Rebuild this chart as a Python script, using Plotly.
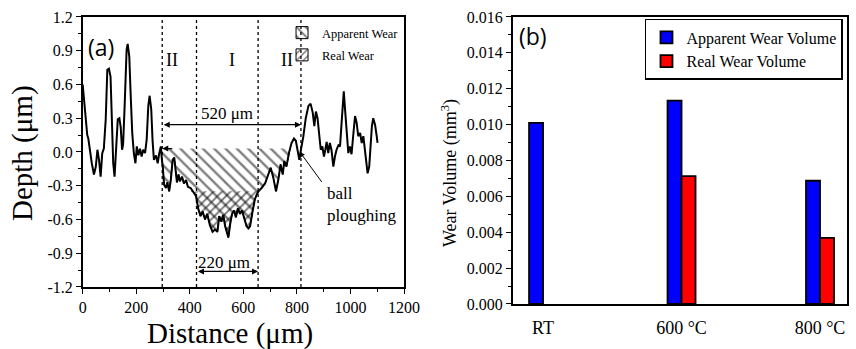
import numpy as np
import plotly.graph_objects as go

# ---------------- Panel (a): surface profile ----------------
distance = [0, 5, 12, 17, 21, 27, 34, 42, 49, 55, 61, 67, 73, 79, 86, 92, 98, 104, 109, 114,
            119, 124, 131, 137, 142, 147, 151, 157, 164, 168, 174, 179, 185, 191, 197, 202,
            208, 214, 220, 226, 233, 239, 245, 250, 256, 261, 266, 274, 280, 286, 292,
            295, 299, 304, 311, 316, 323, 329, 336, 342, 347, 352, 358, 363, 371, 378, 386,
            393, 403, 413, 423, 432, 440, 448, 457, 465, 475, 485, 494, 503, 510, 518, 525,
            532, 544, 552, 558, 565, 572, 580, 587, 595, 604, 612, 619, 625, 635, 643, 650,
            656, 668, 681, 693, 702, 712, 722, 731, 739, 747, 753, 761, 770, 780, 789, 796,
            802, 809, 815, 824, 833, 843, 851, 859, 865, 871, 877, 884, 889, 895, 901, 906,
            911, 917, 923, 929, 936, 942, 948, 955, 961, 966, 971, 975, 980, 986, 992, 998,
            1004, 1010, 1017, 1023, 1029, 1036, 1042, 1048, 1054, 1060, 1064, 1070, 1075,
            1080, 1085, 1092, 1098, 1101]
depth = [0.6, 0.45, 0.29, 0.15, 0.12, 0.0, -0.1, -0.2, -0.13, 0.02, -0.07, -0.22, -0.01, 0.03,
         0.29, 0.73, 0.74, 0.67, 0.29, -0.1,
         -0.22, 0.0, 0.29, 0.3, 0.22, 0.02, 0.07, 0.43, 0.91, 0.96, 0.85, 0.52, 0.17, -0.01,
         -0.1, 0.05,
         -0.03, 0.03, -0.04, 0.02, -0.01, 0.11, 0.41, 0.5, 0.38, 0.1, -0.07, -0.03, -0.1, -0.01,
         0.05,
         -0.05, -0.13, -0.29, -0.32, -0.27, -0.35, -0.25, -0.07, -0.05, -0.16, -0.27, -0.2,
         -0.26, -0.22, -0.28, -0.25,
         -0.31, -0.32, -0.35, -0.39, -0.51, -0.57, -0.53, -0.6, -0.55, -0.65, -0.71, -0.69,
         -0.71, -0.57, -0.62, -0.56,
         -0.66, -0.76, -0.62, -0.55, -0.52, -0.58, -0.5, -0.55, -0.52, -0.6, -0.66, -0.68,
         -0.66, -0.52, -0.42, -0.38,
         -0.35, -0.32, -0.28, -0.2, -0.14, -0.23, -0.35, -0.24, -0.11, -0.2, -0.08, -0.13,
         -0.01, 0.08, 0.12, 0.1,
         0.03, -0.07, 0.02, 0.14, 0.3, 0.41, 0.43, 0.35, 0.23, 0.36, 0.3, 0.14, 0.02, 0.05,
         -0.04, 0.02,
         0.09, -0.01, 0.08, 0.02, -0.13, -0.04, 0.02, 0.06, 0.05, 0.23, 0.4, 0.54, 0.37, 0.14,
         -0.01, 0.05,
         -0.02, 0.14, 0.32, 0.26, 0.14, 0.17, 0.08, 0.14, 0.02, -0.14, -0.19, -0.13, 0.05,
         0.23, 0.3, 0.24, 0.14, 0.08]

zone_bounds = [297, 425, 655, 815]
zone_labels = ["II", "I", "II"]
zone_label_x = [333, 558, 763]
apparent_span = [294, 775]
apparent_level = 0.03
real_span = [405, 660]
real_level = -0.35

depth_ticks = [-1.2, -0.9, -0.6, -0.3, 0.0, 0.3, 0.6, 0.9, 1.2]
depth_tick_labels = ["-1.2", "-0.9", "-0.6", "-0.3", "0.0", "0.3", "0.6", "0.9", "1.2"]
distance_ticks = [0, 200, 400, 600, 800, 1000, 1200]

# ---------------- Panel (b): wear volume ----------------
categories = ["RT", "600 °C", "800 °C"]
apparent_volume = [0.0101, 0.01134, 0.00687]
real_volume = [None, 0.00713, 0.00369]

SERIF = "Liberation Serif, Times New Roman, serif"

APP_PATTERN = dict(shape="\\", fgcolor="black", bgcolor="rgba(0,0,0,0)", size=8, solidity=0.3)
REAL_PATTERN = dict(shape="/", fgcolor="black", bgcolor="rgba(0,0,0,0)", size=6, solidity=0.32)

d = np.array(distance, dtype=float)
z = np.array(depth, dtype=float)

fig = go.Figure()

# Apparent wear area
m = (d >= apparent_span[0]) & (d <= apparent_span[1])
ax_x = [apparent_span[0]] + d[m].tolist() + [apparent_span[1]]
ax_y = [apparent_level] + np.minimum(z[m], apparent_level).tolist() + [apparent_level]
fig.add_trace(go.Scatter(
    x=ax_x, y=ax_y, mode="lines", fill="toself", fillcolor="rgba(0,0,0,0)",
    fillpattern=APP_PATTERN, line=dict(color="black", width=1), showlegend=False,
    hoverinfo="skip", xaxis="x", yaxis="y"))

# Real wear area
m2 = (d >= real_span[0]) & (d <= real_span[1])
rw_x = [real_span[0]] + d[m2].tolist() + [real_span[1]]
rw_y = [real_level] + np.minimum(z[m2], real_level).tolist() + [real_level]
fig.add_trace(go.Scatter(
    x=rw_x, y=rw_y, mode="lines", fill="toself", fillcolor="rgba(0,0,0,0)",
    fillpattern=REAL_PATTERN, line=dict(color="black", width=0.6), showlegend=False,
    hoverinfo="skip", xaxis="x", yaxis="y"))

# Profile
fig.add_trace(go.Scatter(x=distance, y=depth, mode="lines",
                         line=dict(color="black", width=2), showlegend=False,
                         hoverinfo="skip", xaxis="x", yaxis="y"))

# Legend-only entries for the hatched areas
fig.add_trace(go.Bar(x=[None], y=[None], name="Apparent Wear", legend="legend", legendgroup="aw",
                     marker=dict(color="white", pattern=APP_PATTERN,
                                 line=dict(color="black", width=1)),
                     xaxis="x", yaxis="y"))
fig.add_trace(go.Bar(x=[None], y=[None], name="Real Wear", legend="legend", legendgroup="rw",
                     marker=dict(color="white", pattern=REAL_PATTERN,
                                 line=dict(color="black", width=1)),
                     xaxis="x", yaxis="y"))

# Bars
fig.add_trace(go.Bar(x=categories, y=apparent_volume, name="Apparent Wear Volume",
                     marker=dict(color="#0000FF", line=dict(color="black", width=1.8)),
                     xaxis="x2", yaxis="y2", legend="legend2"))
fig.add_trace(go.Bar(x=categories, y=real_volume, name="Real Wear Volume",
                     marker=dict(color="#FF0000", line=dict(color="black", width=1.8)),
                     xaxis="x2", yaxis="y2", legend="legend2"))

shapes = []
for xb in zone_bounds:
    shapes.append(dict(type="line", xref="x", yref="y domain", x0=xb, x1=xb, y0=0, y1=1,
                       line=dict(color="black", width=1.3, dash="dot")))

annotations = []
for lab, lx in zip(zone_labels, zone_label_x):
    annotations.append(dict(x=lx, y=0.82, xref="x", yref="y", text=lab, showarrow=False,
                            xanchor="center", yanchor="middle",
                            font=dict(family=SERIF, size=18, color="black")))
# 520 um arrow
annotations.append(dict(x=zone_bounds[3], y=0.243, ax=zone_bounds[0], ay=0.243, xref="x", yref="y",
                        axref="x", ayref="y", text="", showarrow=True, arrowhead=2,
                        arrowside="end+start", arrowsize=1, arrowwidth=1.2, arrowcolor="black"))
annotations.append(dict(x=539, y=0.34, xref="x", yref="y", text="520 μm", showarrow=False,
                        xanchor="center", yanchor="middle",
                        font=dict(family=SERIF, size=17, color="black")))
# 220 um arrow
annotations.append(dict(x=zone_bounds[2], y=-1.062, ax=zone_bounds[1], ay=-1.062, xref="x", yref="y",
                        axref="x", ayref="y", text="", showarrow=True, arrowhead=2,
                        arrowside="end+start", arrowsize=1, arrowwidth=1.2, arrowcolor="black"))
annotations.append(dict(x=528, y=-0.985, xref="x", yref="y", text="220 μm", showarrow=False,
                        xanchor="center", yanchor="middle",
                        font=dict(family=SERIF, size=17, color="black")))
# left arrow on apparent wear top line
annotations.append(dict(x=zone_bounds[0], y=apparent_level, ax=340, ay=apparent_level, xref="x",
                        yref="y", axref="x", ayref="y", text="", showarrow=True, arrowhead=2,
                        arrowsize=1, arrowwidth=1.2, arrowcolor="black"))
# ball ploughing
annotations.append(dict(x=811, y=0.0, ax=897, ay=-0.28, xref="x", yref="y", axref="x", ayref="y",
                        text="", showarrow=True, arrowhead=2, arrowsize=1, arrowwidth=1,
                        arrowcolor="black"))
annotations.append(dict(x=905, y=-0.465, xref="x", yref="y", text="ball<br>ploughing",
                        showarrow=False, xanchor="left", yanchor="middle", align="left",
                        font=dict(family=SERIF, size=17, color="black")))
# panel labels
annotations.append(dict(x=0.118, y=0.864, xref="paper", yref="paper", text="(a)", showarrow=False,
                        xanchor="center", yanchor="middle",
                        font=dict(family="Open Sans", size=23, color="black")))
annotations.append(dict(x=0.6227, y=0.8968, xref="paper", yref="paper", text="(b)", showarrow=False,
                        xanchor="center", yanchor="middle",
                        font=dict(family="Open Sans", size=23, color="black")))
# axis titles
annotations.append(dict(x=0.0257, y=0.5616, xref="paper", yref="paper", text="Depth (μm)",
                        textangle=-90, showarrow=False, xanchor="center", yanchor="middle",
                        font=dict(family=SERIF, size=29, color="black")))
annotations.append(dict(x=0.2687, y=0.0458, xref="paper", yref="paper", text="Distance (μm)",
                        showarrow=False, xanchor="center", yanchor="middle",
                        font=dict(family=SERIF, size=29, color="black")))
annotations.append(dict(x=0.5257, y=0.504, xref="paper", yref="paper",
                        text="Wear Volume (mm<sup>3</sup>)", textangle=-90, showarrow=False,
                        xanchor="center", yanchor="middle",
                        font=dict(family=SERIF, size=18, color="black")))

axis_common = dict(showline=True, mirror=True, linecolor="black", showgrid=False, zeroline=False,
                   color="black", automargin=False)

fig.update_layout(
    width=856, height=349, margin=dict(l=0, r=0, t=0, b=0, autoexpand=False),
    paper_bgcolor="white", plot_bgcolor="white",
    font=dict(family=SERIF, color="black"),
    barmode="group", bargap=0.798, bargroupgap=0,
    xaxis=dict(domain=[0.0966, 0.472], range=[0, 1200], anchor="y", tickmode="array",
               tickvals=distance_ticks, ticks="outside", ticklen=5, tickwidth=1.2,
               minor=dict(ticks="outside", ticklen=3, tick0=0, dtick=100, tickwidth=1),
               linewidth=1.5, tickfont=dict(family=SERIF, size=16, color="black"), **axis_common),
    yaxis=dict(domain=[0.1777, 0.9513], range=[-1.2, 1.2], anchor="x", tickmode="array",
               tickvals=depth_ticks, ticktext=depth_tick_labels, ticks="outside", ticklen=5,
               tickwidth=1.2,
               minor=dict(ticks="outside", ticklen=3, tick0=0, dtick=0.15, tickwidth=1),
               linewidth=1.5, tickfont=dict(family=SERIF, size=16, color="black"), **axis_common),
    xaxis2=dict(domain=[0.5993, 0.9895], range=[-0.217, 2.195], anchor="y2", type="category",
                ticks="", linewidth=2, ticklabelstandoff=6,
                tickfont=dict(family=SERIF, size=18, color="black"), **axis_common),
    yaxis2=dict(domain=[0.129, 0.9513], range=[0, 0.016], anchor="x2", tickmode="linear",
                tick0=0, dtick=0.002, tickformat=".3f", ticks="outside", ticklen=5, tickwidth=1.2,
                minor=dict(ticks="outside", ticklen=3, dtick=0.001, tickwidth=1),
                linewidth=2, tickfont=dict(family=SERIF, size=16, color="black"), **axis_common),
    legend=dict(x=0.472, xanchor="right", y=0.9484, yanchor="top", bgcolor="rgba(0,0,0,0)",
                borderwidth=0, font=dict(family=SERIF, size=12.5, color="black"),
                tracegroupgap=3),
    legend2=dict(x=0.9848, xanchor="right", y=0.9456, yanchor="top", bgcolor="white",
                 bordercolor="black", borderwidth=1.5,
                 font=dict(family=SERIF, size=16, color="black")),
    shapes=shapes, annotations=annotations,
)

fig.write_html("out.html")
